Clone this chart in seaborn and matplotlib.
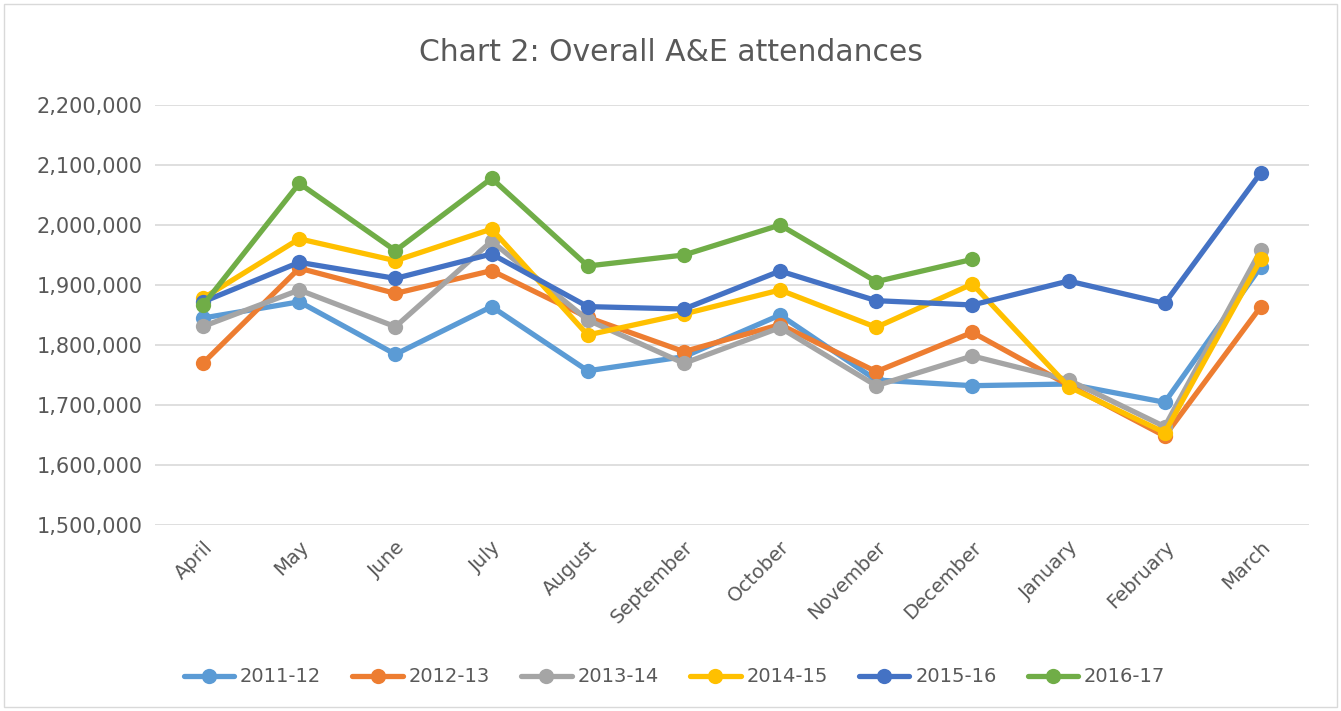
import pandas as pd
import matplotlib.pyplot as plt
import matplotlib.ticker as mticker
import seaborn as sns

# meses (ano financeiro abril-março)
months = ['April', 'May', 'June', 'July', 'August', 'September',
          'October', 'November', 'December', 'January', 'February', 'March']

y2011_12 = [1845000, 1872000, 1784500, 1864000, 1757000, 1780500,
            1850000, 1741700, 1732200, 1735000, 1704500, 1930500]
y2012_13 = [1770000, 1928000, 1886000, 1924000, 1846000, 1789000,
            1834000, 1755600, 1821100, 1733000, 1648300, 1864000]
y2013_14 = [1831000, 1891700, 1830500, 1973000, 1841700, 1769500,
            1829000, 1732200, 1781700, 1741700, 1663900, 1958300]
y2014_15 = [1878000, 1977000, 1940500, 1993300, 1816700, 1851700,
            1891700, 1829500, 1901700, 1730600, 1654000, 1942800]
y2015_16 = [1872000, 1937800, 1911000, 1951700, 1864000, 1860000,
            1923300, 1873900, 1866700, 1906700, 1869400, 2087200]
y2016_17 = [1866700, 2069500, 1957200, 2077800, 1931700, 1950000,
            2000000, 1905600, 1942800]

series = {'2011-12': y2011_12, '2012-13': y2012_13, '2013-14': y2013_14,
          '2014-15': y2014_15, '2015-16': y2015_16, '2016-17': y2016_17}
cores = ['#5B9BD5', '#ED7D31', '#A5A5A5', '#FFC000', '#4472C4', '#70AD47']

rows = []
for ano, vals in series.items():
    for m, v in zip(months, vals):
        rows.append({'month': m, 'year': ano, 'attendances': v})
df = pd.DataFrame(rows)

sns.set_style('white')
plt.rcParams['font.family'] = ['DejaVu Sans']

fig = plt.figure(figsize=(13.41, 7.11), dpi=100)
ax = fig.add_axes([0.1156, 0.2616, 0.8605, 0.5907])

sns.lineplot(data=df, x='month', y='attendances', hue='year',
             palette=cores, marker='o', markersize=11, markeredgewidth=0,
             linewidth=3.8, sort=False, ax=ax, zorder=3)

ax.set_xlim(-0.5, 11.5)
ax.set_ylim(1500000, 2200000)
ax.yaxis.set_major_locator(mticker.MultipleLocator(100000))
ax.yaxis.set_major_formatter(mticker.FuncFormatter(lambda v, p: f'{int(v):,}'))
ax.grid(axis='y', color='#D9D9D9', linewidth=1.2)
ax.set_axisbelow(True)
for s in ax.spines.values():
    s.set_visible(False)
ax.tick_params(length=0, labelsize=15, colors='#595959', pad=9)
ax.tick_params(axis='x', labelsize=14)
ax.set_xticks(range(len(months)))
ax.set_xticklabels(months, rotation=45, ha='right', rotation_mode='anchor')
ax.set_xlabel('')
ax.set_ylabel('')

fig.suptitle('Chart 2: Overall A&E attendances', fontsize=21.5, color='#595959',
             y=0.947)

handles, labels = ax.get_legend_handles_labels()
ax.legend(handles, labels, loc='center', bbox_to_anchor=(0.503, 0.048),
          bbox_transform=fig.transFigure, ncol=6, frameon=False,
          fontsize=14, labelcolor='#595959', handlelength=2.6,
          columnspacing=1.6, handletextpad=0.3)

fig.patches.append(plt.Rectangle((0.003, 0.006), 0.994, 0.988, fill=False,
                                 edgecolor='#D9D9D9', linewidth=1,
                                 transform=fig.transFigure))

plt.savefig('out.png', dpi=100)
